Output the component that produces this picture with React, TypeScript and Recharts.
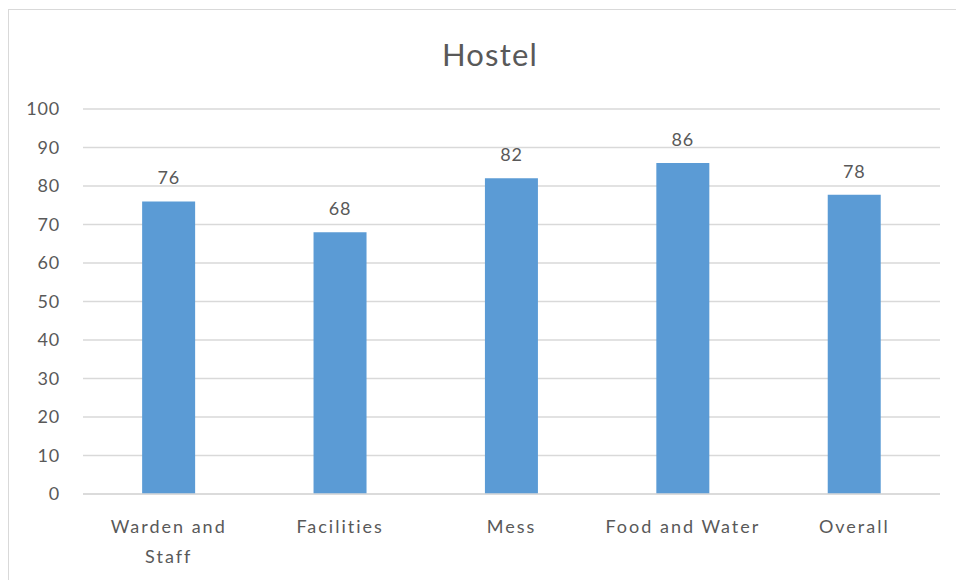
import { BarChart, Bar, XAxis, YAxis, CartesianGrid, LabelList } from 'recharts';

const CATEGORIES = ['Warden and Staff', 'Facilities', 'Mess', 'Food and Water', 'Overall'];
const SCORES = [76, 68, 82, 86, 77.7];
const Y_TICKS = [0, 10, 20, 30, 40, 50, 60, 70, 80, 90, 100];

const TEXT = '#595959';
const GRID = '#d9d9d9';
const FONT = 'Lato, "Open Sans", sans-serif';

const data = CATEGORIES.map((name, i) => ({ name, score: SCORES[i] }));

function wrap(label: string): string[] {
  if (label.length <= 15) return [label];
  const words = label.split(' ');
  const lines: string[] = [];
  let cur = '';
  words.forEach(w => {
    const next = cur ? cur + ' ' + w : w;
    if (next.length > 10 && cur) { lines.push(cur); cur = w; } else cur = next;
  });
  if (cur) lines.push(cur);
  return lines;
}

function CategoryTick({ x, y, payload }: any) {
  const lines = wrap(String(payload.value));
  return (
    <text x={x} y={y} textAnchor="middle" fill={TEXT} fontSize={18} fontFamily={FONT} letterSpacing={2}>
      {lines.map((l, i) => (
        <tspan key={i} x={x} dy={i === 0 ? 39 : 30}>{l}</tspan>
      ))}
    </text>
  );
}

export default function App() {
  return (
    <div style={{ position: 'fixed', left: 0, top: 0, width: 956, height: 580, background: '#fff', overflow: 'hidden' }}>
      <div style={{ position: 'absolute', left: 8, top: 9, width: 1000, height: 700, border: `1px solid ${GRID}` }} />
      <div style={{ position: 'absolute', left: 0, top: 0 }}>
        <BarChart width={956} height={580} data={data} margin={{ top: 109, right: 16, bottom: 10, left: 0 }} barCategoryGap="34.5%">
          <text x={490} y={66} textAnchor="middle" fill={TEXT} fontSize={31} fontFamily={FONT} letterSpacing={1.2}>Hostel</text>
          <CartesianGrid vertical={false} stroke={GRID} strokeWidth={1.5} />
          <XAxis dataKey="name" tick={<CategoryTick />} tickLine={false} axisLine={{ stroke: GRID, strokeWidth: 1.5 }} height={76} interval={0} tickSize={0} tickMargin={0} />
          <YAxis domain={[0, 100]} ticks={Y_TICKS} interval={0} width={83} tickLine={false} axisLine={false} tickSize={0} tickMargin={23}
            tick={{ fill: TEXT, fontSize: 18, fontFamily: FONT, letterSpacing: 0.8 }} />
          <Bar dataKey="score" fill="#5b9bd5" isAnimationActive={false}>
            <LabelList dataKey="score" position="top" offset={17} fill={TEXT} fontSize={18} fontFamily={FONT} letterSpacing={0.8}
              formatter={(v: any) => Math.round(Number(v))} />
          </Bar>
        </BarChart>
      </div>
    </div>
  );
}
